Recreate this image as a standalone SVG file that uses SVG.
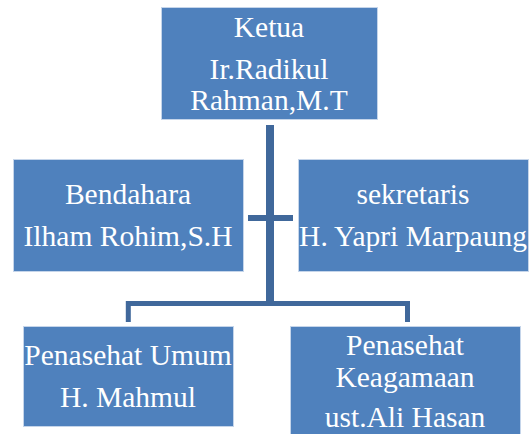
<svg xmlns="http://www.w3.org/2000/svg" width="529" height="434" viewBox="0 0 529 434">
<style>
.box{fill:#4F81BD;stroke:#C5D5EA;stroke-width:1}
.t{font-family:"Liberation Serif","Times New Roman",serif;font-size:29.5px;fill:#FFFFFF;text-anchor:middle}
.c{fill:none;stroke:#40689B;stroke-linejoin:miter;stroke-linecap:butt}
</style>
<rect width="529" height="434" fill="#FFFFFF"/>
<g id="connectors">
<line class="c" x1="270" y1="125" x2="270" y2="306" stroke-width="8"/>
<line class="c" x1="248" y1="218" x2="293" y2="218" stroke-width="6"/>
<path class="c" d="M128.3,322 V303.5 H407.5 V322" stroke-width="5"/>
</g>
<g id="ketua">
<rect class="box" x="161.5" y="7.5" width="216" height="112"/>
<text class="t" x="269" y="37">Ketua</text>
<text class="t" x="269" y="79">Ir.Radikul</text>
<text class="t" x="269" y="110">Rahman,M.T</text>
</g>
<g id="bendahara">
<rect class="box" x="13.5" y="159.5" width="230" height="112"/>
<text class="t" x="128" y="204">Bendahara</text>
<text class="t" x="128" y="246">Ilham Rohim,S.H</text>
</g>
<g id="sekretaris">
<rect class="box" x="298.5" y="159.5" width="230" height="112"/>
<text class="t" x="413" y="204">sekretaris</text>
<text class="t" x="413" y="246">H. Yapri Marpaung</text>
</g>
<g id="penasehat-umum">
<rect class="box" x="23.5" y="326.5" width="210" height="100"/>
<text class="t" x="128" y="365">Penasehat Umum</text>
<text class="t" x="128" y="407">H. Mahmul</text>
</g>
<g id="penasehat-keagamaan">
<rect class="box" x="290.5" y="326.5" width="230" height="110"/>
<text class="t" x="405" y="355">Penasehat</text>
<text class="t" x="405" y="387">Keagamaan</text>
<text class="t" x="405" y="427">ust.Ali Hasan</text>
</g>
</svg>
